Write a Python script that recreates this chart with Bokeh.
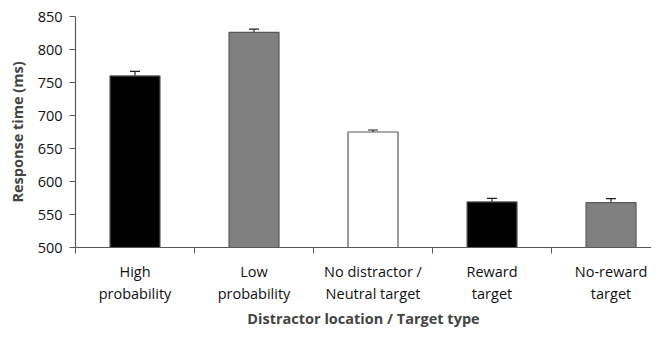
from bokeh.plotting import figure
from bokeh.models import ColumnDataSource, Range1d, FixedTicker, Whisker, TeeHead
from bokeh.embed import file_html
from bokeh.resources import INLINE

categories = ["High\nprobability", "Low\nprobability", "No distractor /\nNeutral target",
              "Reward\ntarget", "No-reward\ntarget"]
values = [760, 826, 675, 569, 568]
errors = [7, 5, 3, 5.5, 6]
colors = ["#000000", "#808080", "#FFFFFF", "#000000", "#808080"]
y_ticks = [500, 550, 600, 650, 700, 750, 800, 850]

xs = [i + 0.5 for i in range(len(categories))]
src = ColumnDataSource(dict(x=xs, top=values, color=colors,
                            upper=[v + e for v, e in zip(values, errors)],
                            lower=[v - e for v, e in zip(values, errors)]))

p = figure(width=651, height=331, output_backend="svg", toolbar_location=None,
           x_range=Range1d(0, 4.84), y_range=Range1d(500, 850),
           min_border_left=75, min_border_top=16, min_border_bottom=10, min_border_right=0)
p.outline_line_color = None
p.grid.visible = False
p.background_fill_color = "white"
p.border_fill_color = "white"

p.vbar(x="x", top="top", bottom=500, width=0.42, fill_color="color",
       line_color="#595959", line_width=1.2, source=src)

w = Whisker(base="x", upper="upper", lower="lower", source=src,
            line_color="#222222", line_width=1.2,
            upper_head=TeeHead(size=10, line_color="#222222", line_width=1.2),
            lower_head=TeeHead(size=10, line_color="#222222", line_width=1.2))
p.add_layout(w)

font = "Open Sans"
p.xaxis.ticker = FixedTicker(ticks=xs, minor_ticks=list(range(len(categories) + 1)))
p.xaxis.major_label_overrides = {x: c for x, c in zip(xs, categories)}
p.xaxis.major_tick_out = 0
p.xaxis.major_tick_in = 0
p.xaxis.minor_tick_out = 6
p.xaxis.minor_tick_in = 0
p.xaxis.minor_tick_line_color = "#595959"
p.xaxis.axis_line_color = "#595959"
p.xaxis.axis_line_width = 1.2
p.xaxis.major_label_text_font = font
p.xaxis.major_label_text_font_size = "14.5px"
p.xaxis.major_label_text_color = "#111111"
p.xaxis.major_label_standoff = 8
p.xaxis.axis_label = "Distractor location / Target type"
p.xaxis.axis_label_text_font = font
p.xaxis.axis_label_text_font_style = "bold"
p.xaxis.axis_label_text_font_size = "14.5px"
p.xaxis.axis_label_standoff = 3

p.yaxis.ticker = FixedTicker(ticks=y_ticks, minor_ticks=[])
p.yaxis.major_tick_out = 6
p.yaxis.major_tick_in = 0
p.yaxis.major_tick_line_color = "#595959"
p.yaxis.axis_line_color = "#595959"
p.yaxis.axis_line_width = 1.2
p.yaxis.major_label_text_font = font
p.yaxis.major_label_text_font_size = "14.5px"
p.yaxis.major_label_text_color = "#111111"
p.yaxis.major_label_standoff = 7
p.yaxis.axis_label = "Response time (ms)"
p.yaxis.axis_label_text_font = font
p.yaxis.axis_label_text_font_style = "bold"
p.yaxis.axis_label_text_font_size = "14.5px"
p.yaxis.axis_label_standoff = 8

open("out.html", "w").write(file_html(p, INLINE))
